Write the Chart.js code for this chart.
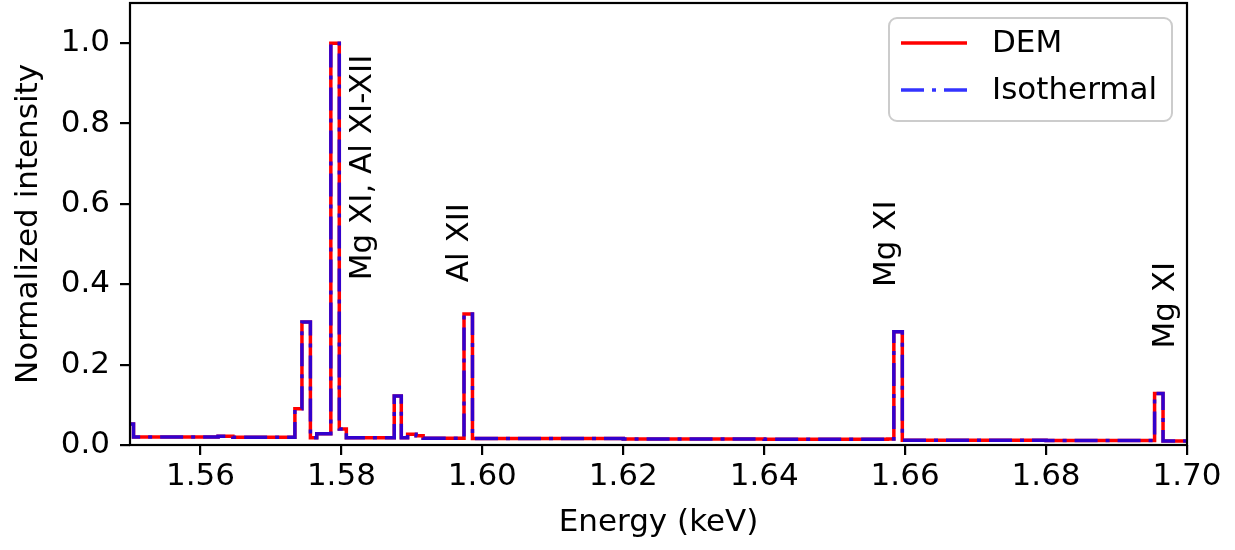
<!DOCTYPE html>
<html>
<head>
<meta charset="utf-8">
<title>Spectrum</title>
<script src="https://cdn.jsdelivr.net/npm/chart.js@4.4.0/dist/chart.umd.min.js"></script>
<style>
  html, body { margin: 0; padding: 0; background: #fff; }
  #wrap { width: 1235px; height: 550px; }
</style>
</head>
<body>
<div id="wrap"><canvas id="spectrum" width="1235" height="550"></canvas></div>
<script>
// --- data ---
// energy (keV) where each histogram step starts
const energyEdges = [
  1.5500, 1.5505, 1.5625, 1.5646, 1.5734, 1.5744, 1.5756, 1.5765,
  1.5785, 1.5797, 1.5807, 1.5875, 1.5885, 1.5894, 1.5906, 1.5916,
  1.5974, 1.5986, 1.6200, 1.6400, 1.6575, 1.6584, 1.6596, 1.6800,
  1.6954, 1.6966, 1.7000
];
// normalized intensity on each step
const demValues = [
  0.052, 0.020, 0.022, 0.019, 0.090, 0.306, 0.018, 0.028,
  1.000, 0.040, 0.018, 0.122, 0.018, 0.027, 0.023, 0.017,
  0.326, 0.016, 0.015, 0.014, 0.015, 0.282, 0.012, 0.011,
  0.128, 0.010, 0.010
];
const isothermalValues = [
  0.052, 0.020, 0.022, 0.019, 0.090, 0.306, 0.018, 0.028,
  1.000, 0.040, 0.018, 0.122, 0.018, 0.027, 0.023, 0.017,
  0.326, 0.016, 0.015, 0.014, 0.015, 0.282, 0.012, 0.011,
  0.128, 0.010, 0.010
];
const xTickValues = [1.56, 1.58, 1.60, 1.62, 1.64, 1.66, 1.68, 1.70];
const yTickValues = [0.0, 0.2, 0.4, 0.6, 0.8, 1.0];

// line identifications (text, energy of baseline, height where text starts)
const lineNames = ['Mg XI, Al XI-XII', 'Al XII', 'Mg XI', 'Mg XI'];
const lineNameEnergy = [1.5842, 1.5979, 1.6585, 1.6982];
const lineNameLevel = [0.410, 0.405, 0.393, 0.240];

const FONT = '"DejaVu Sans", "Liberation Sans", sans-serif';
const FS = 31;

function toPoints(values) {
  return energyEdges.map((e, i) => ({ x: e, y: values[i] }));
}

// rotated line labels
const lineNamePlugin = {
  id: 'lineNames',
  afterDatasetsDraw(chart) {
    const { ctx, scales } = chart;
    ctx.save();
    ctx.fillStyle = '#000';
    ctx.font = FS + 'px ' + FONT;
    ctx.textAlign = 'left';
    ctx.textBaseline = 'alphabetic';
    lineNames.forEach((t, i) => {
      const x = scales.x.getPixelForValue(lineNameEnergy[i]);
      const y = scales.y.getPixelForValue(lineNameLevel[i]);
      ctx.save();
      ctx.translate(x, y);
      ctx.rotate(-Math.PI / 2);
      ctx.fillText(t, 0, 0);
      ctx.restore();
    });
    ctx.restore();
  }
};

// axes frame + legend box like matplotlib
const framePlugin = {
  id: 'frame',
  afterDraw(chart) {
    const { ctx, chartArea: a } = chart;
    ctx.save();
    ctx.strokeStyle = '#000';
    ctx.lineWidth = 2.2;
    ctx.strokeRect(a.left, a.top, a.right - a.left, a.bottom - a.top);

    // legend
    const bx = a.right - 298, by = a.top + 15, bw = 283, bh = 103;
    ctx.beginPath();
    ctx.roundRect(bx, by, bw, bh, 8);
    ctx.fillStyle = 'rgba(255,255,255,0.8)';
    ctx.fill();
    ctx.strokeStyle = '#cccccc';
    ctx.lineWidth = 2;
    ctx.stroke();

    const hx0 = bx + 12, hx1 = bx + 78;
    const rows = [
      { label: 'DEM', color: 'red', dash: [], y: by + 25 },
      { label: 'Isothermal', color: 'rgba(0,0,255,0.8)', dash: [23, 8, 4, 8], y: by + 72 }
    ];
    rows.forEach(r => {
      ctx.beginPath();
      ctx.setLineDash(r.dash);
      ctx.strokeStyle = r.color;
      ctx.lineWidth = 3.5;
      ctx.moveTo(hx0, r.y);
      ctx.lineTo(hx1, r.y);
      ctx.stroke();
      ctx.setLineDash([]);
      ctx.fillStyle = '#000';
      ctx.font = FS + 'px ' + FONT;
      ctx.textAlign = 'left';
      ctx.textBaseline = 'middle';
      ctx.fillText(r.label, bx + 103, r.y + 1);
    });
    ctx.restore();
  }
};

new Chart(document.getElementById('spectrum'), {
  type: 'line',
  data: {
    datasets: [
      {
        label: 'DEM',
        data: toPoints(demValues),
        borderColor: 'red',
        borderWidth: 3.5,
        stepped: 'before',
        pointRadius: 0,
        fill: false,
        order: 2
      },
      {
        label: 'Isothermal',
        data: toPoints(isothermalValues),
        borderColor: 'rgba(0,0,255,0.8)',
        borderWidth: 3.5,
        borderDash: [23, 8, 4, 8],
        stepped: 'before',
        pointRadius: 0,
        fill: false,
        order: 1
      }
    ]
  },
  options: {
    responsive: false,
    animation: false,
    devicePixelRatio: 1,
    layout: { padding: { left: 0, right: 48, top: 3, bottom: 0 } },
    plugins: {
      legend: { display: false },
      tooltip: { enabled: false }
    },
    scales: {
      x: {
        type: 'linear',
        min: 1.55,
        max: 1.70,
        afterBuildTicks: s => { s.ticks = xTickValues.map(v => ({ value: v })); },
        afterFit: s => { s.height = 105; s.paddingLeft = 0; s.paddingRight = 0; },
        ticks: {
          autoSkip: false,
          maxRotation: 0,
          color: '#000',
          padding: 3,
          font: { family: FONT, size: FS },
          callback: v => Number(v).toFixed(2)
        },
        grid: { drawOnChartArea: false, drawTicks: true, tickLength: 10, color: '#000', lineWidth: 2.2 },
        border: { display: false },
        title: {
          display: true,
          text: 'Energy (keV)',
          color: '#000',
          font: { family: FONT, size: FS },
          padding: { top: 0, bottom: 8 }
        }
      },
      y: {
        min: 0,
        max: 1.1,
        afterBuildTicks: s => { s.ticks = yTickValues.map(v => ({ value: v })); },
        afterFit: s => { s.width = 130; s.paddingTop = 0; s.paddingBottom = 0; },
        ticks: {
          color: '#000',
          padding: 10,
          font: { family: FONT, size: FS },
          callback: v => Number(v).toFixed(1)
        },
        grid: { drawOnChartArea: false, drawTicks: true, tickLength: 10, color: '#000', lineWidth: 2.2 },
        border: { display: false },
        title: {
          display: true,
          text: 'Normalized intensity',
          color: '#000',
          font: { family: FONT, size: FS },
          padding: { top: 10, bottom: 0 }
        }
      }
    }
  },
  plugins: [lineNamePlugin, framePlugin]
});
</script>
</body>
</html>
